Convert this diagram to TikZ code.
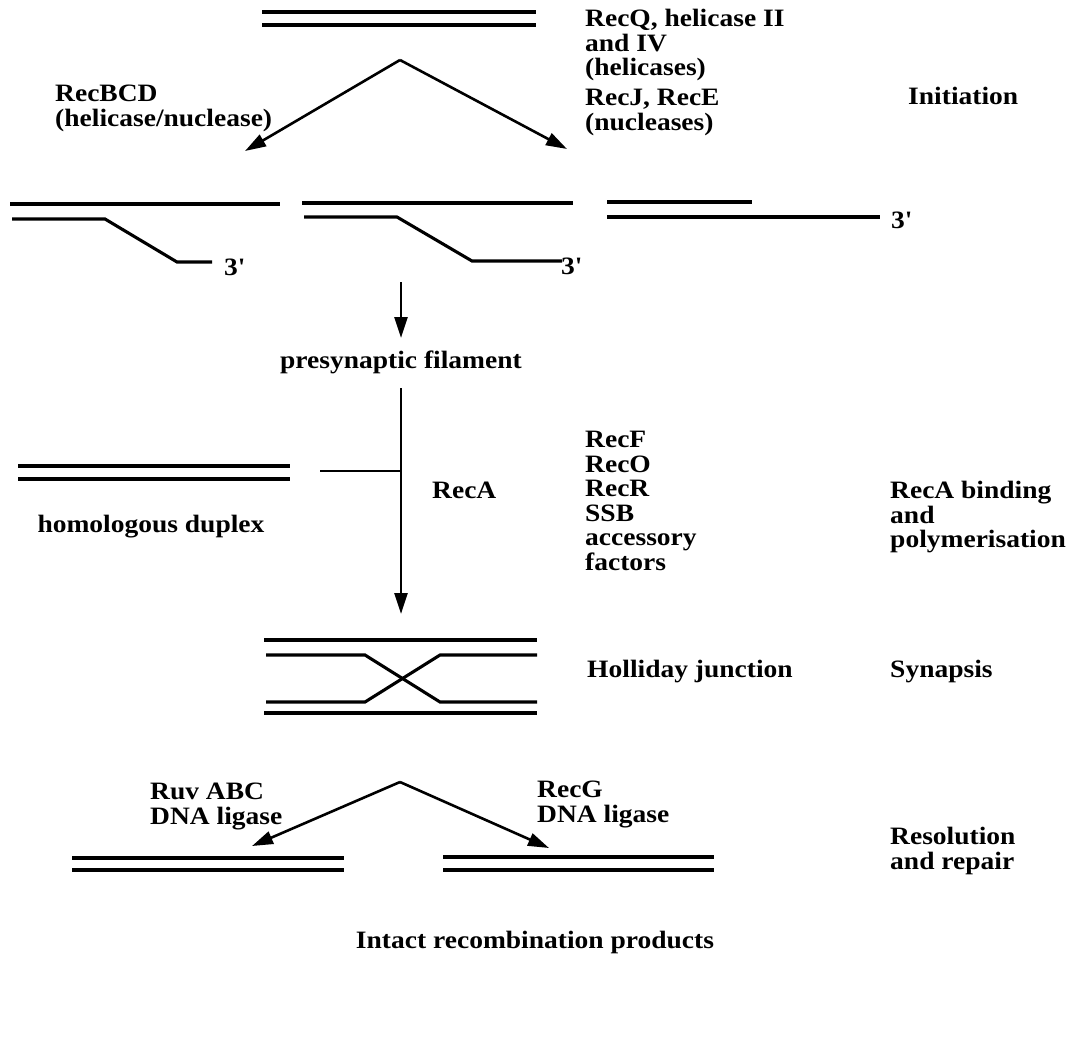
\documentclass[tikz,border=0pt]{standalone}
\usepackage{fontspec}
\setmainfont{Liberation Serif}[FakeStretch=1.1]
\usetikzlibrary{arrows.meta}
\begin{document}
\begin{tikzpicture}[x=1pt,y=-1pt,
  dna/.style={line width=3.1pt},
  arr/.style={line width=2.6pt,-{Triangle[length=21pt,width=13pt]}},
  lbl/.style={font=\fontsize{25}{24.5}\selectfont\bfseries,inner sep=0pt,align=left,anchor=north west},
  one/.style={font=\fontsize{25}{24.5}\selectfont\bfseries,inner sep=0pt,anchor=base west},
  mid/.style={font=\fontsize{25}{24.5}\selectfont\bfseries,inner sep=0pt,anchor=base}]
\useasboundingbox[fill=white] (0,0) rectangle (1083,1045);

% top duplex
\draw[dna] (262,12) -- (536,12);
\draw[dna] (262,25) -- (536,25);

% labels, initiation
\node[lbl] (recq) at (585,9) {RecQ, helicase II\\and IV\\(helicases)};
\node[lbl] (recj) at (585,89) {RecJ, RecE\\(nucleases)};
\node[one] (init) at (908,104) {Initiation};
\node[lbl] (recbcd) at (55,85) {RecBCD\\(helicase/nuclease)};

% split arrows
\coordinate (apex1) at (400,60);
\coordinate (tipL1) at (245,151);
\coordinate (tipR1) at (567,149);
\draw[arr] (apex1) -- (tipL1);
\draw[arr] (apex1) -- (tipR1);

% row 2 fragments
\draw[dna] (10,204) -- (280,204);
\draw[dna] (12,219) -- (105,219) -- (177,262) -- (212,262);
\node[one] (p3a) at (224,275) {3\textquotesingle};
\draw[dna] (302,203) -- (573,203);
\draw[dna] (304,217) -- (397,217) -- (472,261) -- (562,261);
\node[one] (p3b) at (561,274) {3\textquotesingle};
\draw[dna] (607,202) -- (752,202);
\draw[dna] (607,217) -- (880,217);
\node[one] (p3c) at (891,228) {3\textquotesingle};

% presynaptic filament
\coordinate (d1) at (401,282);
\coordinate (d2) at (401,338);
\draw[arr] (d1) -- (d2);
\node[mid] (pre) at (401,368) {presynaptic filament};

% homologous duplex and RecA
\draw[dna] (18,466) -- (290,466);
\draw[dna] (18,479) -- (290,479);
\node[mid] (homo) at (151,532) {homologous duplex};
\coordinate (v1) at (401,388);
\coordinate (v2) at (401,614);
\coordinate (tee) at (401,471);
\coordinate (teeL) at (320,471);
\draw[arr] (v1) -- (v2);
\draw[line width=2.6pt] (teeL) -- (tee);
\node[one] (reca) at (432,498) {RecA};
\node[lbl] (recf) at (585,431) {RecF\\RecO\\RecR\\SSB\\accessory\\factors};
\node[lbl] (bind) at (890,481) {RecA binding\\and\\polymerisation};

% Holliday junction
\draw[dna] (264,640) -- (537,640);
\draw[dna] (266,655) -- (365,655) -- (440,702) -- (537,702);
\draw[dna] (266,702) -- (365,702) -- (440,655) -- (537,655);
\draw[dna] (264,713) -- (537,713);
\node[one] (hj) at (587,677) {Holliday junction};
\node[one] (syn) at (890,677) {Synapsis};

% resolution
\coordinate (apex2) at (400,782);
\coordinate (tipL2) at (252,846);
\coordinate (tipR2) at (549,848);
\draw[arr] (apex2) -- (tipL2);
\draw[arr] (apex2) -- (tipR2);
\node[lbl] (ruv) at (150,783) {Ruv ABC\\DNA ligase};
\node[lbl] (recg) at (537,781) {RecG\\DNA ligase};
\draw[dna] (72,858) -- (344,858);
\draw[dna] (72,870) -- (344,870);
\draw[dna] (443,857) -- (714,857);
\draw[dna] (443,870) -- (714,870);
\node[lbl] (res) at (890,827) {Resolution\\and repair};
\node[mid] (intact) at (535,948) {Intact recombination products};
\end{tikzpicture}
\end{document}
